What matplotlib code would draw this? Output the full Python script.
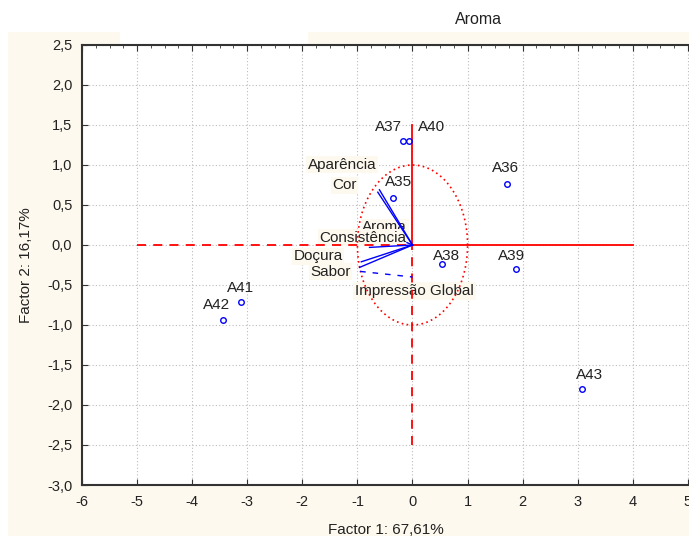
import numpy as np
import matplotlib.pyplot as plt
from matplotlib.patches import Rectangle
from matplotlib.ticker import FuncFormatter, MultipleLocator, AutoMinorLocator

plt.rcParams['font.family'] = ['Liberation Sans', 'DejaVu Sans']

# observations (cases)
obs_names = ['A35', 'A36', 'A37', 'A38', 'A39', 'A40', 'A41', 'A42', 'A43']
obs_x = [-0.36, 1.72, -0.18, 0.54, 1.88, -0.06, -3.12, -3.44, 3.08]
obs_y = [0.59, 0.76, 1.30, -0.24, -0.30, 1.30, -0.71, -0.94, -1.80]

# variable vectors
var_names = ['Aparência', 'Cor', 'Aroma', 'Consistência', 'Doçura', 'Sabor']
var_x = [-0.60, -0.63, -0.10, -0.78, -0.93, -0.96]
var_y = [0.69, 0.66, 0.03, -0.03, -0.21, -0.28]

# supplementary variable
sup_name = 'Impressão Global'
sup_x = [-0.95, 0.0]
sup_y = [-0.33, -0.40]

cream = '#fef9ee'
fig = plt.figure(figsize=(6.89, 5.36), dpi=100, facecolor='white')
fig.patches.append(Rectangle((8/689, 0), 1, (536-32)/536, transform=fig.transFigure,
                             facecolor=cream, edgecolor='none', zorder=-10))
fig.patches.append(Rectangle((120/689, (536-45)/536), (308-120)/689, 13/536,
                             transform=fig.transFigure, facecolor='white',
                             edgecolor='none', zorder=-9))
fig.text(478/689, 1 - 20/536, 'Aroma', ha='center', va='center', fontsize=11.5, color='#222')

ax = fig.add_axes([82/689, 51/536, 1 - 82/689, 440/536])
ax.set_facecolor('white')

# unit circle
t = np.linspace(0, 2*np.pi, 300)
ax.plot(np.cos(t), np.sin(t), color='red', linestyle=(0, (1, 2)), linewidth=1.2, zorder=3)

# axes through origin
ax.plot([-5, 0], [0, 0], color='red', linestyle=(0, (5, 4)), linewidth=1.3, zorder=3)
ax.plot([0, 4], [0, 0], color='red', linewidth=1.3, zorder=3)
ax.plot([0, 0], [-2.5, 0], color='red', linestyle=(0, (5, 4)), linewidth=1.3, zorder=3)
ax.plot([0, 0], [0, 1.5], color='red', linewidth=1.3, zorder=3)

# variable vectors
for vx, vy in zip(var_x, var_y):
    ax.plot([0, vx], [0, vy], color='blue', linewidth=1.0, zorder=4)
ax.plot(sup_x, sup_y, color='blue', linestyle=(0, (4, 5)), linewidth=1.0, zorder=4)

var_offsets = [(-27, 18), (-24, 5), (-16, 11), (-5, 7), (-31, 4), (-21, -3)]
for name, vx, vy, off in zip(var_names, var_x, var_y, var_offsets):
    ax.annotate(name, (vx, vy), xytext=off, textcoords='offset points',
                ha='center', va='center', fontsize=11, color='#222', zorder=2,
                bbox=dict(boxstyle='square,pad=0.1', facecolor=cream, edgecolor='none'))
ax.annotate(sup_name, (sup_x[0], sup_y[0]), xytext=(39, -14), textcoords='offset points',
            ha='center', va='center', fontsize=11, color='#222', zorder=2,
            bbox=dict(boxstyle='square,pad=0.15', facecolor=cream, edgecolor='none'))

# observations
ax.plot(obs_x, obs_y, 'o', markersize=4, markerfacecolor='none',
        markeredgecolor='blue', markeredgewidth=1.0, linestyle='none', zorder=5)
obs_offsets = [(4, 11.5), (-1, 11.5), (-10, 10), (3, 6), (-3.5, 9), (16, 10), (0, 10), (-5, 11), (5, 10)]
for name, ox, oy, off in zip(obs_names, obs_x, obs_y, obs_offsets):
    ax.annotate(name, (ox, oy), xytext=off, textcoords='offset points',
                ha='center', va='center', fontsize=11, color='#222', zorder=5)

ax.set_xlim(-6, 5.02)
ax.set_ylim(-3.0, 2.5)
ax.xaxis.set_major_locator(MultipleLocator(1))
ax.yaxis.set_major_locator(MultipleLocator(0.5))
ax.xaxis.set_minor_locator(AutoMinorLocator(4))
ax.yaxis.set_minor_locator(AutoMinorLocator(4))
ax.yaxis.set_major_formatter(FuncFormatter(lambda v, p: f'{v:.1f}'.replace('.', ',')))
ax.xaxis.set_major_formatter(FuncFormatter(lambda v, p: f'{v:.0f}'))
ax.tick_params(which='both', direction='in', top=True, right=False, labelsize=10.5,
               colors='#333', labelcolor='#222')
ax.tick_params(which='major', length=4, pad=7)
ax.tick_params(which='minor', length=2, bottom=False, left=False)
ax.grid(True, which='major', color='#bbbbbb', linestyle=(0, (1, 2)), linewidth=0.8)
ax.set_axisbelow(True)
for side in ['left', 'bottom', 'top']:
    ax.spines[side].set_linewidth(1.5)
    ax.spines[side].set_color('#333')
ax.spines['right'].set_visible(False)

ax.set_xlabel('Factor 1: 67,61%', fontsize=11, color='#222', labelpad=10)
ax.set_ylabel('Factor 2: 16,17%', fontsize=11, color='#222', labelpad=10)

fig.savefig('out.png', dpi=100, facecolor=fig.get_facecolor())
